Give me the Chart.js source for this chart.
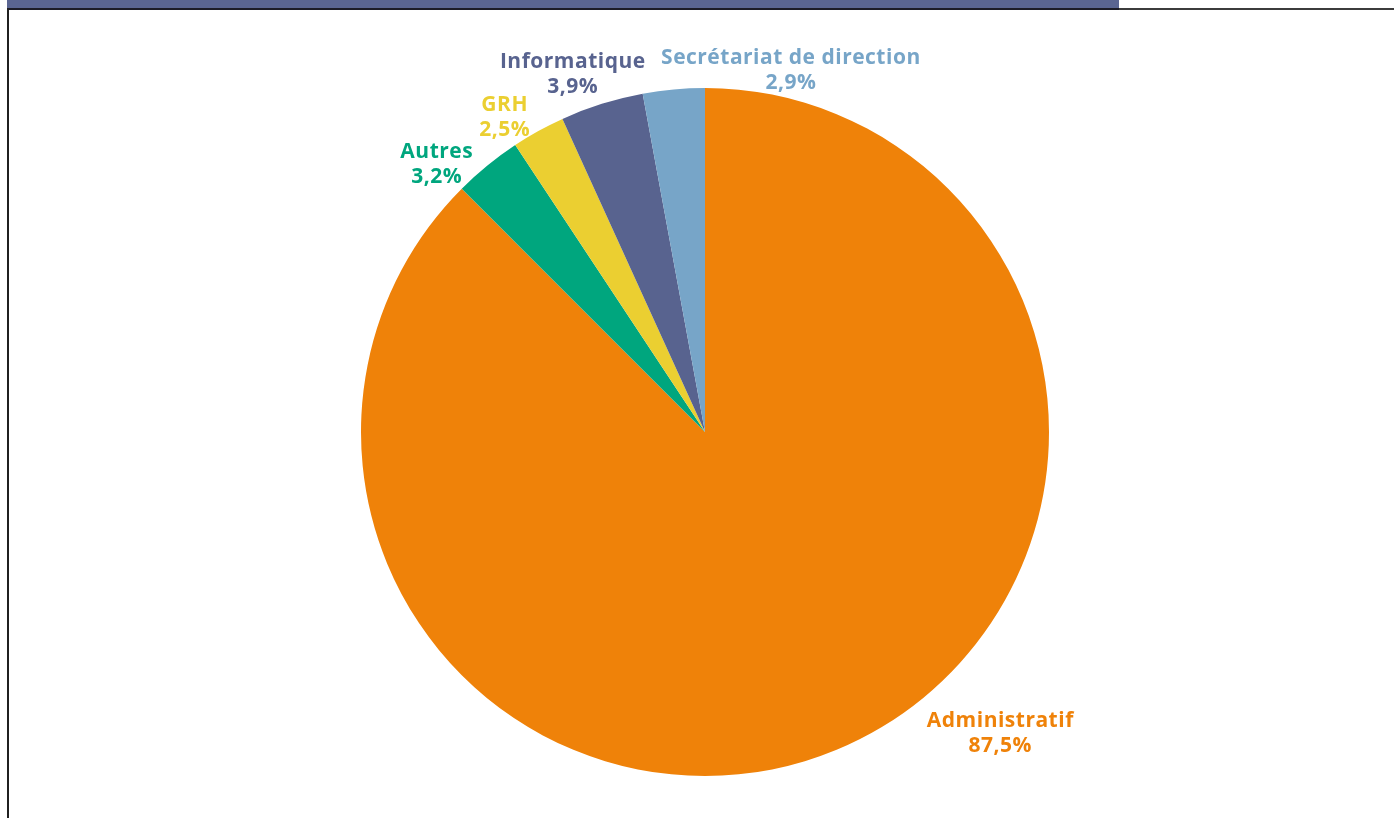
<!DOCTYPE html>
<html lang="fr">
<head>
<meta charset="utf-8">
<script src="https://cdn.jsdelivr.net/npm/chart.js@4.4.1/dist/chart.umd.min.js"></script>
<style>
  html, body { margin: 0; padding: 0; background: #ffffff; }
  body { width: 1394px; height: 818px; position: relative; overflow: hidden; }
  #bar { position: absolute; left: 7px; top: 0; width: 1112px; height: 8px; background: #5a6592; }
  #rule { position: absolute; left: 7px; top: 8px; width: 1387px; height: 2px; background: #3c3c3c; }
  #ruleDark { position: absolute; left: 7px; top: 8px; width: 1112px; height: 2px; background: #1c1c28; }
  #side { position: absolute; left: 7px; top: 8px; width: 2px; height: 810px; background: #202020; }
  #wrap { position: absolute; left: 0; top: 0; width: 1394px; height: 818px; }
</style>
</head>
<body>
<div id="bar"></div>
<div id="rule"></div>
<div id="ruleDark"></div>
<div id="side"></div>
<div id="wrap"><canvas id="pie" width="1394" height="818"></canvas></div>
<script>
// Répartition par famille de métiers (%)
const categories = ["Administratif", "Autres", "GRH", "Informatique", "Secrétariat de direction"];
const shares = [87.5, 3.2, 2.5, 3.9, 2.9];
const valueLabels = ["87,5%", "3,2%", "2,5%", "3,9%", "2,9%"];
const sliceColors = ["#ef8209", "#00a67e", "#ebcf31", "#58638f", "#77a5c8"];

// Label placement: distance beyond the rim and a manual nudge per slice
const labelGap = 20;
const labelNudges = [[156, -35], [-38, 14], [-24, 4], [-23, -10], [119, 1]];

const sliceLabels = {
  id: 'sliceLabels',
  afterDatasetsDraw(chart) {
    const ctx = chart.ctx;
    const meta = chart.getDatasetMeta(0);
    ctx.save();
    ctx.font = "bold 21px 'Open Sans', sans-serif";
    ctx.letterSpacing = '0.5px';
    ctx.textAlign = 'center';
    ctx.textBaseline = 'middle';
    meta.data.forEach((arc, i) => {
      const mid = (arc.startAngle + arc.endAngle) / 2;
      const r = arc.outerRadius + labelGap;
      const x = arc.x + Math.cos(mid) * r + labelNudges[i][0];
      const y = arc.y + Math.sin(mid) * r + labelNudges[i][1];
      ctx.fillStyle = sliceColors[i];
      ctx.fillText(categories[i], x, y - 12.5);
      ctx.fillText(valueLabels[i], x, y + 12.5);
    });
    ctx.restore();
  }
};

new Chart(document.getElementById('pie'), {
  type: 'pie',
  data: {
    labels: categories,
    datasets: [{
      data: shares,
      backgroundColor: sliceColors,
      borderWidth: 0
    }]
  },
  options: {
    responsive: false,
    animation: false,
    layout: { padding: { left: 361, right: 345, top: 88, bottom: 42 } },
    plugins: {
      legend: { display: false },
      tooltip: { enabled: false }
    }
  },
  plugins: [sliceLabels]
});
</script>
</body>
</html>
